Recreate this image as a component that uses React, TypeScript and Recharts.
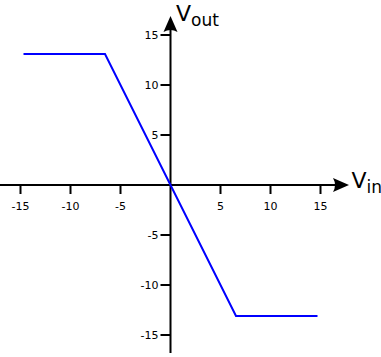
import { LineChart, Line, XAxis, YAxis, ReferenceLine, ReferenceDot } from 'recharts'

const vin = [-14.7, -6.55, 6.55, 14.7]
const vout = [13.1, 13.1, -13.1, -13.1]
const xTicks = [-15, -10, -5, 5, 10, 15]
const yTicks = [-15, -10, -5, 5, 10, 15]

const data = vin.map((x, i) => ({ x, y: vout[i] }))

const FONT = '"DejaVu Sans", sans-serif'

const XTick = ({ cx, cy, value }: { cx?: number; cy?: number; value: number }) => (
  <g>
    <line x1={cx} y1={cy} x2={cx} y2={(cy ?? 0) + 9} stroke="#000" strokeWidth={2} />
    <text x={cx} y={(cy ?? 0) + 25} textAnchor="middle" fontSize={11} fontFamily={FONT} fill="#000">
      {value}
    </text>
  </g>
)

const YTick = ({ cx, cy, value }: { cx?: number; cy?: number; value: number }) => (
  <g>
    <line x1={(cx ?? 0) - 10} y1={cy} x2={cx} y2={cy} stroke="#000" strokeWidth={2} />
    <text x={(cx ?? 0) - 12} y={(cy ?? 0) + 4} textAnchor="end" fontSize={11} fontFamily={FONT} fill="#000">
      {value}
    </text>
  </g>
)

const ArrowRight = ({ cx = 0, cy = 0 }: { cx?: number; cy?: number }) => (
  <path d={`M${cx},${cy} L${cx - 16},${cy - 7} Q${cx - 12},${cy} ${cx - 16},${cy + 7} Z`} fill="#000" />
)

const ArrowUp = ({ cx = 0, cy = 0 }: { cx?: number; cy?: number }) => (
  <path d={`M${cx},${cy} L${cx - 7},${cy + 16} Q${cx},${cy + 12} ${cx + 7},${cy + 16} Z`} fill="#000" />
)

const AxisName = ({ cx = 0, cy = 0, main, sub }: { cx?: number; cy?: number; main: string; sub: string }) => (
  <text x={cx} y={cy} fontFamily={FONT} fill="#000">
    <tspan fontSize={22}>{main}</tspan>
    <tspan fontSize={17} dy={5}>{sub}</tspan>
  </text>
)

export default function App() {
  return (
    <>
      <style>{'body{margin:0}'}</style>
      <LineChart width={381} height={357} data={data} margin={{ top: 0, right: 0, bottom: 0, left: 0 }}>
        <XAxis dataKey="x" type="number" domain={[-17.05, 21.05]} hide allowDataOverflow />
        <YAxis type="number" domain={[-17.2, 18.5]} hide allowDataOverflow />
        <ReferenceLine segment={[{ x: -17.05, y: 0 }, { x: 16.6, y: 0 }]} stroke="#000" strokeWidth={2} />
        <ReferenceLine segment={[{ x: 0, y: -16.8 }, { x: 0, y: 15.6 }]} stroke="#000" strokeWidth={2} />
        <ReferenceDot x={17.85} y={0} r={1} shape={(p: any) => <ArrowRight cx={p.cx} cy={p.cy} />} />
        <ReferenceDot x={0} y={16.9} r={1} shape={(p: any) => <ArrowUp cx={p.cx} cy={p.cy} />} />
        {xTicks.map((t) => (
          <ReferenceDot key={`xt${t}`} x={t} y={0} r={1} shape={(p: any) => <XTick cx={p.cx} cy={p.cy} value={t} />} />
        ))}
        {yTicks.map((t) => (
          <ReferenceDot key={`yt${t}`} x={0} y={t} r={1} shape={(p: any) => <YTick cx={p.cx} cy={p.cy} value={t} />} />
        ))}
        <ReferenceDot x={0.55} y={16.4} r={1} shape={(p: any) => <AxisName cx={p.cx} cy={p.cy} main="V" sub="out" />} />
        <ReferenceDot x={18.1} y={-0.25} r={1} shape={(p: any) => <AxisName cx={p.cx} cy={p.cy} main="V" sub="in" />} />
        <Line
          type="linear"
          dataKey="y"
          stroke="#0000ff"
          strokeWidth={2}
          dot={false}
          activeDot={false}
          isAnimationActive={false}
        />
      </LineChart>
    </>
  )
}
